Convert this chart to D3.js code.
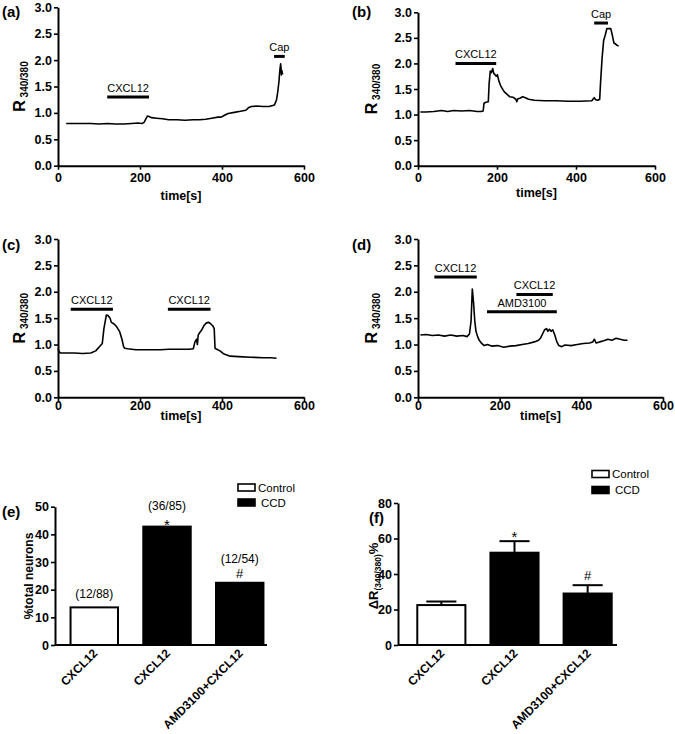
<!DOCTYPE html>
<html><head><meta charset="utf-8">
<script src="https://cdn.jsdelivr.net/npm/d3@7"></script>
<style>
html,body{margin:0;padding:0;background:#fff;}
svg{display:block;font-family:"Liberation Sans",Arial,sans-serif;}
</style></head>
<body><svg id="chart" width="675" height="734"></svg>
<script>
// ---------- DATA ----------
const timeTicks = [0, 200, 400, 600];
const ratioTicks = [0, 0.5, 1.0, 1.5, 2.0, 2.5, 3.0];

const traceA_t = [20,40,60,80,100,120,140,160,180,195,205,210,214,218,222,228,240,255,270,290,310,330,345,360,375,390,398,405,415,430,445,458,465,472,485,500,515,528,533,536,539,541,543,544,545,546,547,548];
const traceA_r = [0.80,0.80,0.80,0.80,0.79,0.80,0.79,0.79,0.80,0.81,0.80,0.82,0.88,0.94,0.93,0.91,0.90,0.89,0.87,0.87,0.86,0.87,0.87,0.88,0.90,0.92,0.92,0.95,0.99,1.01,1.03,1.05,1.10,1.12,1.13,1.12,1.12,1.15,1.25,1.40,1.60,1.80,1.93,1.85,1.72,1.80,1.76,1.73];

const traceB_t = [6,20,40,60,75,90,110,130,150,160,165,167,172,178,180,183,186,189,192,195,198,201,205,210,218,225,232,240,248,250,253,258,265,272,280,295,320,350,380,410,440,446,450,455,460,462,466,470,474,478,483,488,492,496,500,505,508];
const traceB_r = [1.05,1.05,1.06,1.08,1.06,1.08,1.07,1.08,1.06,1.06,1.07,1.22,1.24,1.25,1.60,1.85,1.82,1.90,1.80,1.78,1.75,1.78,1.65,1.55,1.45,1.40,1.35,1.34,1.30,1.25,1.31,1.32,1.35,1.33,1.30,1.28,1.27,1.27,1.26,1.26,1.27,1.33,1.29,1.28,1.30,1.60,2.10,2.45,2.55,2.68,2.68,2.68,2.55,2.40,2.38,2.35,2.34];

const traceC_t = [0,3,6,20,40,60,80,92,100,108,112,118,122,127,130,135,142,150,156,160,163,170,190,220,250,270,300,320,330,334,338,340,342,345,350,356,362,368,374,378,381,383,385,395,405,420,440,470,500,520,533];
const traceC_r = [0.93,0.86,0.84,0.84,0.84,0.83,0.84,0.88,0.95,1.02,1.30,1.56,1.55,1.50,1.42,1.40,1.35,1.25,1.10,0.96,0.93,0.92,0.90,0.90,0.90,0.91,0.91,0.91,0.92,1.05,1.10,1.00,1.18,1.22,1.27,1.36,1.41,1.42,1.38,1.35,1.30,0.93,0.92,0.88,0.82,0.78,0.77,0.76,0.75,0.75,0.74];

const traceD_t = [6,20,35,50,65,80,95,110,120,126,130,133,136,139,142,146,150,156,162,170,180,195,210,225,240,255,270,285,295,300,305,310,315,318,322,326,330,335,340,345,352,360,375,390,405,420,428,432,436,445,455,465,475,485,495,505,513];
const traceD_r = [1.18,1.19,1.17,1.18,1.16,1.18,1.16,1.17,1.15,1.20,1.45,2.05,1.80,1.45,1.25,1.15,1.08,1.02,0.98,1.00,0.97,0.98,0.95,0.97,0.98,1.00,1.02,1.05,1.08,1.12,1.20,1.28,1.30,1.25,1.29,1.25,1.28,1.18,1.05,0.98,0.96,0.99,0.98,1.00,1.02,1.03,1.05,1.10,1.03,1.05,1.07,1.10,1.08,1.12,1.10,1.08,1.08];

// application bars: [start s, end s, level, label]
const stimA = [[120,222,1.30,"CXCL12"],[527,553,2.07,"Cap"]];
const stimB = [[95,198,2.00,"CXCL12"],[446,481,2.79,"Cap"]];
const stimC = [[31,134,1.67,"CXCL12"],[268,372,1.67,"CXCL12"]];
const stimD = [[40,144,2.28,"CXCL12"],[241,330,1.95,"CXCL12"],[169,340,1.62,"AMD3100"]];

const barCats = ["CXCL12","CXCL12","AMD3100+CXCL12"];
const barGroups = ["Control","CCD","CCD"];
const pctValues = [13.6, 42.8, 22.5];
const pctCounts = ["(12/88)","(36/85)","(12/54)"];
const pctMarks = ["","*","#"];
const pctTicks = [0,10,20,30,40,50];
const dRValues = [22.5, 52.0, 29.0];
const dRErr = [2.0, 6.5, 4.7];
const dRMarks = ["","*","#"];
const dRTicks = [0,20,40,60,80];
const legendItems = ["Control","CCD"];

// ---------- DRAW ----------
const svg = d3.select("#chart");
const FONT = '"Liberation Sans",Arial,sans-serif';

function styleAxis(g){
  g.select(".domain").attr("stroke","#000").attr("stroke-width",2);
  g.selectAll(".tick line").attr("stroke","#000").attr("stroke-width",1.6);
  g.selectAll(".tick text").attr("fill","#000").attr("font-weight","bold").attr("font-size",12.5).attr("font-family",FONT);
}

function tracePanel(c){
  const x = d3.scaleLinear().domain([0,600]).range([c.x0,c.x1]);
  const y = d3.scaleLinear().domain([0,3]).range([c.yb,c.yt]);
  const gy = svg.append("g").attr("transform",`translate(${c.x0},0)`)
    .call(d3.axisLeft(y).tickValues(ratioTicks).tickFormat(d3.format(".1f")).tickSize(4).tickSizeOuter(0).tickPadding(2));
  styleAxis(gy);
  const gx = svg.append("g").attr("transform",`translate(0,${c.yb})`)
    .call(d3.axisBottom(x).tickValues(timeTicks).tickSize(4).tickSizeOuter(0).tickPadding(c.tp));
  styleAxis(gx);
  svg.append("text").attr("x",(c.x0+c.x1)/2).attr("y",c.yb+c.titleDy).attr("text-anchor","middle")
    .attr("font-weight","bold").attr("font-size",12.5).text("time[s]");
  const yt = svg.append("text").attr("transform",`translate(${c.x0-c.ytOff},${(c.yt+c.yb)/2}) rotate(-90)`)
    .attr("text-anchor","middle").attr("font-weight","bold");
  yt.append("tspan").attr("font-size",16).text("R");
  yt.append("tspan").attr("font-size",10).attr("dy",3).text(" 340/380");
  svg.append("text").attr("x",c.lx).attr("y",c.ly).attr("font-weight","bold").attr("font-size",15).text(c.label);
  const pts = c.t.map((t,i)=>[t,c.r[i]]);
  svg.append("path").datum(pts).attr("fill","none").attr("stroke","#000").attr("stroke-width",1.6)
    .attr("stroke-linejoin","round")
    .attr("d",d3.line().x(d=>x(d[0])).y(d=>y(d[1])));
  c.stim.forEach(s=>{
    svg.append("line").attr("x1",x(s[0])).attr("x2",x(s[1])).attr("y1",y(s[2])).attr("y2",y(s[2]))
      .attr("stroke","#000").attr("stroke-width",3);
    svg.append("text").attr("x",(x(s[0])+x(s[1]))/2).attr("y",y(s[2])-5).attr("text-anchor","middle")
      .attr("font-size",11).text(s[3]);
  });
}

tracePanel({x0:58,x1:304,yt:7.3,yb:165.7,tp:3,titleDy:34,ytOff:33,lx:2,ly:17,label:"(a)",t:traceA_t,r:traceA_r,stim:stimA});
tracePanel({x0:418,x1:655,yt:12.3,yb:165.7,tp:3,titleDy:31,ytOff:41,lx:352,ly:17,label:"(b)",t:traceB_t,r:traceB_r,stim:stimB});
tracePanel({x0:58,x1:304,yt:239,yb:397.3,tp:0,titleDy:23,ytOff:33,lx:2,ly:250,label:"(c)",t:traceC_t,r:traceC_r,stim:stimC});
tracePanel({x0:418,x1:663,yt:239,yb:397.3,tp:0,titleDy:23,ytOff:41,lx:352,ly:250,label:"(d)",t:traceD_t,r:traceD_r,stim:stimD});

function barPanel(c){
  const x = d3.scaleBand().domain(d3.range(barCats.length)).range([c.x0,c.xr]).paddingInner(c.pi).paddingOuter(c.po);
  const y = d3.scaleLinear().domain([0,c.max]).range([c.yb,c.yt]);
  const gy = svg.append("g").attr("transform",`translate(${c.x0},0)`)
    .call(d3.axisLeft(y).tickValues(c.ticks).tickFormat(d3.format("d")).tickSize(4).tickSizeOuter(0).tickPadding(2));
  styleAxis(gy);
  svg.append("line").attr("x1",c.x0).attr("x2",c.xe).attr("y1",c.yb).attr("y2",c.yb).attr("stroke","#000").attr("stroke-width",2);
  if(c.err){
    c.values.forEach((v,i)=>{
      const cx = x(i)+x.bandwidth()/2, w = x.bandwidth()*0.3;
      svg.append("line").attr("x1",cx).attr("x2",cx).attr("y1",y(v)).attr("y2",y(v+c.err[i])).attr("stroke","#000").attr("stroke-width",2);
      svg.append("line").attr("x1",cx-w).attr("x2",cx+w).attr("y1",y(v+c.err[i])).attr("y2",y(v+c.err[i])).attr("stroke","#000").attr("stroke-width",2);
    });
  }
  c.values.forEach((v,i)=>{
    svg.append("rect").attr("x",x(i)+1).attr("y",y(v)).attr("width",x.bandwidth()-2).attr("height",c.yb-y(v))
      .attr("fill",barGroups[i]==="Control"?"#fff":"#000").attr("stroke","#000").attr("stroke-width",2);
  });
  c.values.forEach((v,i)=>{
    const cx = x(i)+x.bandwidth()/2;
    const top = c.err? y(v+c.err[i]) : y(v);
    if(c.marks[i]==="*"){
      svg.append("text").attr("x",cx).attr("y",top+c.starDy).attr("text-anchor","middle").attr("font-size",15).text("*");
    } else if(c.marks[i]==="#"){
      svg.append("text").attr("x",cx).attr("y",top-5).attr("text-anchor","middle").attr("font-size",13).text("#");
    }
    if(c.counts){
      const dy = c.marks[i]==="*" ? -17 : (c.marks[i]==="#" ? -20 : -9);
      svg.append("text").attr("x",cx).attr("y",top+dy).attr("text-anchor","middle").attr("font-size",12).text(c.counts[i]);
    }
    svg.append("text").attr("transform",`translate(${cx+4},${c.yb+9}) rotate(-45)`).attr("text-anchor","end")
      .attr("font-weight","bold").attr("font-size",12).text(barCats[i]);
  });
  legendItems.forEach((g,i)=>{
    const ly = c.legY + i*c.legStep;
    svg.append("rect").attr("x",c.legX).attr("y",ly-3.5).attr("width",17).attr("height",7)
      .attr("fill",g==="Control"?"#fff":"#000").attr("stroke","#000").attr("stroke-width",1.6);
    svg.append("text").attr("x",c.legX+(g==="Control"?20:23)).attr("y",ly+4).attr("font-size",11.5).text(g);
  });
  svg.append("text").attr("x",c.lx).attr("y",c.ly).attr("font-weight","bold").attr("font-size",15).text(c.label);
}

barPanel({x0:55,xr:279,xe:267,pi:0.32,po:0.2,yb:645,yt:506.7,max:50,ticks:pctTicks,values:pctValues,counts:pctCounts,marks:pctMarks,starDy:3,
  legX:238,legY:487.5,legStep:15,lx:2,ly:517,label:"(e)"});
barPanel({x0:398,xr:631,xe:617,pi:0.315,po:0.25,yb:645,yt:503,max:80,ticks:dRTicks,values:dRValues,err:dRErr,marks:dRMarks,starDy:1,
  legX:592,legY:474,legStep:16,lx:369,ly:523,label:"(f)"});

// y titles for bar panels
svg.append("text").attr("transform","translate(33,576) rotate(-90)").attr("text-anchor","middle")
  .attr("font-weight","bold").attr("font-size",12).text("%total neurons");
const ft = svg.append("text").attr("transform","translate(378,576) rotate(-90)").attr("text-anchor","middle").attr("font-weight","bold");
ft.append("tspan").attr("font-size",13).text("\u0394R");
ft.append("tspan").attr("font-size",8.5).attr("dy",3).text("(340/380)");
ft.append("tspan").attr("font-size",13).attr("dy",-3).text("%");
</script></body></html>
